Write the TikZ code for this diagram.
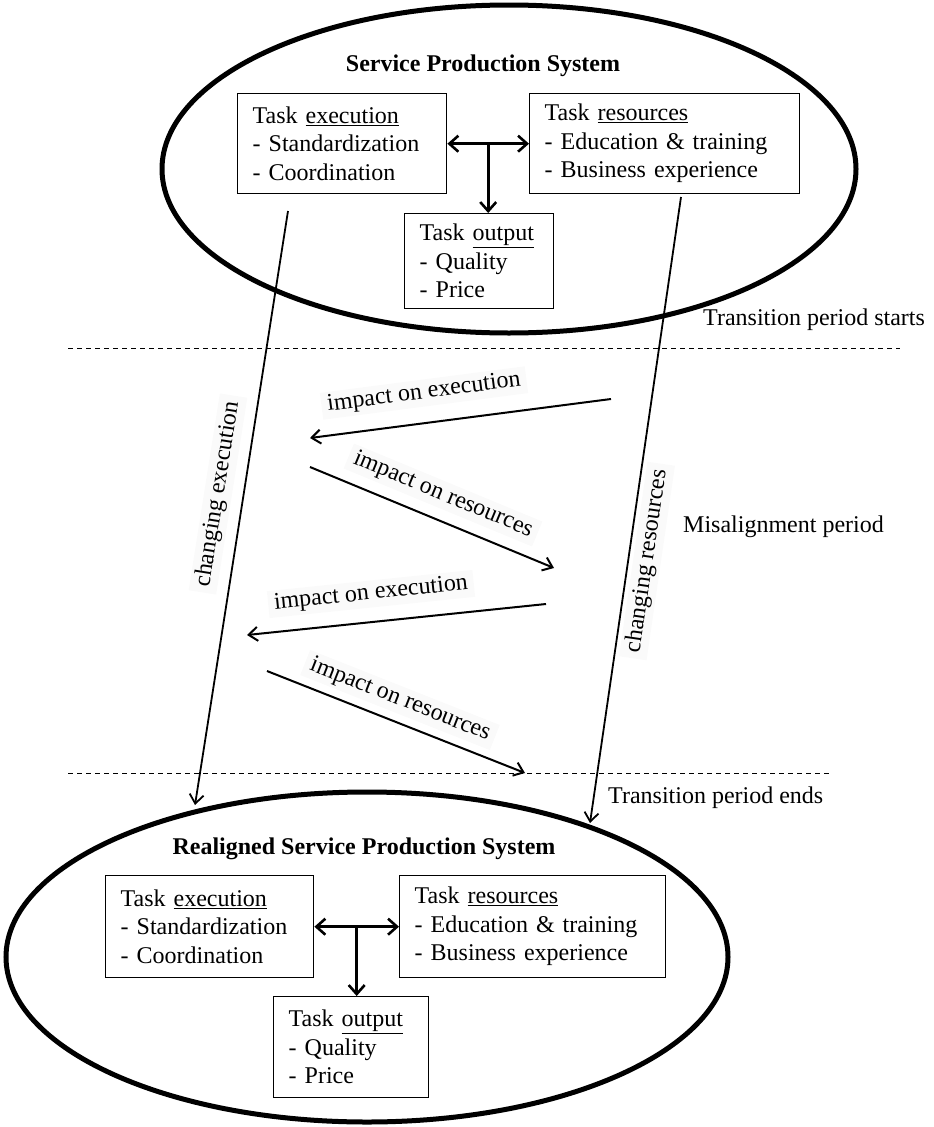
\documentclass[tikz,border=0pt]{standalone}
\usepackage{fontspec}
\setmainfont{Liberation Serif}
\usetikzlibrary{arrows.meta,shapes.geometric,calc}
\begin{document}
\begin{tikzpicture}[x=1pt,y=-1pt,
  every node/.style={font=\fontsize{24}{28.5}\selectfont},
  sys/.style={draw, ellipse, line width=5pt, inner sep=0pt},
  taskbox/.style={draw, line width=1.4pt, align=left, inner xsep=15pt, inner ysep=0pt, anchor=north west},
  ttl/.style={font=\fontsize{24}{28.5}\selectfont\bfseries, anchor=base, inner sep=0pt},
  plain/.style={anchor=base west, inner sep=0pt},
  lab/.style={fill=black!2, inner xsep=6pt, inner ysep=3pt},
  link/.style={>={Straight Barb[length=9pt,width=16pt]}, line width=2.6pt},
  flow/.style={>={Straight Barb[length=9pt,width=14pt]}, line width=2pt, ->},
  change/.style={>={Straight Barb[length=9pt,width=14pt]}, line width=1.8pt, ->},
  sep/.style={line width=0.9pt, dash pattern=on 5pt off 4pt}]
\useasboundingbox (0,0) rectangle (934,1127);

% systems
\node[sys, minimum width=694pt, minimum height=328pt] (sys1) at (509,169) {};
\node[sys, minimum width=722pt, minimum height=330pt] (sys2) at (367,957) {};
\node[ttl] (t1) at (483,71) {Service Production System};
\node[ttl] (t2) at (364,854) {Realigned Service Production System};

% period separators
\coordinate (d1a) at (68,348); \coordinate (d1b) at (900,348);
\coordinate (d2a) at (68,773); \coordinate (d2b) at (830,773);
\draw[sep] (d1a) -- (d1b);
\draw[sep] (d2a) -- (d2b);
\node[plain] (ps) at (703,325) {Transition period starts};
\node[plain] (pm) at (683,532) {Misalignment period};
\node[plain] (pe) at (608,803) {Transition period ends};

% labels
\node[lab, rotate=81] (lce) at (218,494) {changing execution};
\node[lab, rotate=81.7] (lcr) at (647,561) {changing resources};
\node[lab, rotate=7.4] (le1) at (424,393) {impact on execution};
\node[lab, rotate=-22.5] (lr1) at (443,495) {impact on resources};
\node[lab, rotate=5.9] (le2) at (371,594) {impact on execution};
\node[lab, rotate=-21.6] (lr2) at (400,700) {impact on resources};

% top system boxes
\node[taskbox, text width=179pt, minimum height=100pt] (b1) at (237,93) {Task \underline{execution}\\- Standardization\\- Coordination};
\node[taskbox, text width=240pt, minimum height=100pt] (b2) at (529,93) {Task \underline{resources}\\- Education \& training\\- Business experience};
\node[taskbox, text width=119pt, minimum height=95pt] (b3) at (404,213) {Task \underline{output}\\- Quality\\- Price};

% bottom system boxes
\node[taskbox, text width=178pt, minimum height=102pt] (b4) at (105,875) {Task \underline{execution}\\- Standardization\\- Coordination};
\node[taskbox, text width=236pt, minimum height=102pt] (b5) at (399,875) {Task \underline{resources}\\- Education \& training\\- Business experience};
\node[taskbox, text width=125pt, minimum height=101pt] (b6) at (273,996) {Task \underline{output}\\- Quality\\- Price};

% links inside systems
\coordinate (m1) at ($(b1.east)!0.5!(b2.west)$);
\coordinate (m2) at ($(b4.east)!0.5!(b5.west)$);
\draw[link, <->] (b1.east) -- (b2.west);
\draw[link, ->] (m1) -- (m1 |- b3.north);
\draw[link, <->] (b4.east) -- (b5.west);
\draw[link, ->] (m2) -- (m2 |- b6.north);

% changes across the transition
\coordinate (ces) at (288,211); \coordinate (cet) at (195,805);
\coordinate (crs) at (681,197); \coordinate (crt) at (590,823);
\draw[change] (ces) -- (cet);
\draw[change] (crs) -- (crt);

% misalignment cycle
\coordinate (e1s) at (611,399); \coordinate (e1t) at (310,438);
\coordinate (r1s) at (310,467); \coordinate (r1t) at (554,568);
\coordinate (e2s) at (546,604); \coordinate (e2t) at (247,635);
\coordinate (r2s) at (267,671); \coordinate (r2t) at (525,773);
\draw[flow] (e1s) -- (e1t);
\draw[flow] (r1s) -- (r1t);
\draw[flow] (e2s) -- (e2t);
\draw[flow] (r2s) -- (r2t);
\end{tikzpicture}
\end{document}
